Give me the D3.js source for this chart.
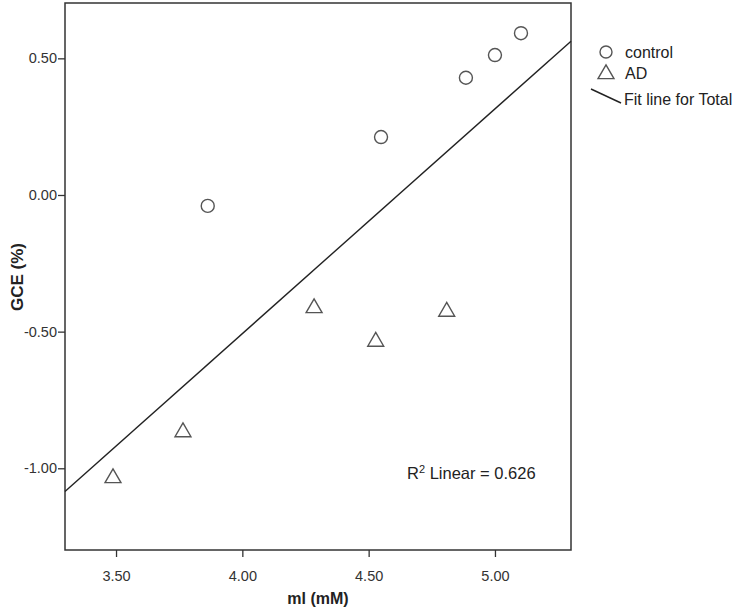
<!DOCTYPE html>
<html>
<head>
<meta charset="utf-8">
<script src="https://cdn.jsdelivr.net/npm/d3@7"></script>
<style>
  body { margin: 0; background: #fff; }
  svg { font-family: "Liberation Sans", Arial, sans-serif; }
</style>
</head>
<body>
<div id="chart"></div>
<script>
// data
const controlX = [3.863, 4.549, 4.885, 5.0, 5.103];
const controlY = [-0.04, 0.212, 0.429, 0.512, 0.592];
const adX = [3.488, 3.765, 4.284, 4.528, 4.809];
const adY = [-1.032, -0.864, -0.41, -0.533, -0.423];
const xTicks = [3.5, 4.0, 4.5, 5.0];
const yTicks = [0.5, 0.0, -0.5, -1.0];
const legendLabels = ["control", "AD", "Fit line for Total"];
const r2Label = "0.626";

const width = 739, height = 613;
const box = { left: 65, right: 571, top: 3, bottom: 550 };

const svg = d3.select("#chart")
  .append("svg")
  .attr("width", width)
  .attr("height", height);

// plain hyphen for negatives, like the original
const fmt = d3.formatLocale({ decimal: ".", thousands: ",", grouping: [3], currency: ["", ""], minus: "-" }).format(".2f");

// scales
const x = d3.scaleLinear().domain([3.298, 5.301]).range([box.left, box.right]);
const y = d3.scaleLinear().domain([-1.299, 0.7025]).range([box.bottom, box.top]);

// Y axis
const yAxis = svg.append("g")
  .attr("transform", `translate(${box.left},0)`)
  .call(d3.axisLeft(y).tickValues(yTicks).tickFormat(fmt).tickSize(7).tickSizeOuter(0));
yAxis.select(".domain").remove();
yAxis.selectAll("line").attr("stroke", "#333").attr("stroke-width", 1.3);
yAxis.selectAll("text")
  .style("font-size", "14.5px")
  .attr("fill", "#333")
  .attr("x", -8);

// X axis
const xAxis = svg.append("g")
  .attr("transform", `translate(0,${box.bottom})`)
  .call(d3.axisBottom(x).tickValues(xTicks).tickFormat(fmt).tickSize(7).tickSizeOuter(0));
xAxis.select(".domain").remove();
xAxis.selectAll("line").attr("stroke", "#333").attr("stroke-width", 1.3);
xAxis.selectAll("text")
  .style("font-size", "14.5px")
  .attr("fill", "#333")
  .attr("y", 21);

// Frame
svg.append("rect")
  .attr("x", box.left)
  .attr("y", box.top)
  .attr("width", box.right - box.left)
  .attr("height", box.bottom - box.top)
  .attr("fill", "none")
  .attr("stroke", "#333")
  .attr("stroke-width", 1.5);

// Axis titles
svg.append("text")
  .attr("x", (box.left + box.right) / 2)
  .attr("y", 604)
  .attr("text-anchor", "middle")
  .attr("font-size", 16)
  .attr("font-weight", "bold")
  .attr("fill", "#222")
  .text("ml (mM)");

svg.append("text")
  .attr("transform", "rotate(-90)")
  .attr("x", -277)
  .attr("y", 23)
  .attr("text-anchor", "middle")
  .attr("font-size", 17)
  .attr("font-weight", "bold")
  .attr("fill", "#222")
  .text("GCE (%)");

// Fit line for total (least squares)
const allX = controlX.concat(adX);
const allY = controlY.concat(adY);
const mx = d3.mean(allX), my = d3.mean(allY);
const slope = d3.sum(allX, (d, i) => (d - mx) * (allY[i] - my)) / d3.sum(allX, (d) => (d - mx) ** 2);
const fit = (v) => my + slope * (v - mx);
const [x0, x1] = x.domain();

svg.append("line")
  .attr("x1", x(x0))
  .attr("y1", y(fit(x0)))
  .attr("x2", x(x1))
  .attr("y2", y(fit(x1)))
  .attr("stroke", "#222")
  .attr("stroke-width", 1.4);

// Points
const tri = d3.symbol().type(d3.symbolTriangle).size(110);

svg.selectAll(".ctl")
  .data(controlX.map((d, i) => [d, controlY[i]]))
  .join("circle")
  .attr("class", "ctl")
  .attr("cx", (d) => x(d[0]))
  .attr("cy", (d) => y(d[1]))
  .attr("r", 6.5)
  .attr("fill", "none")
  .attr("stroke", "#555")
  .attr("stroke-width", 1.4);

svg.selectAll(".ad")
  .data(adX.map((d, i) => [d, adY[i]]))
  .join("path")
  .attr("class", "ad")
  .attr("d", tri)
  .attr("transform", (d) => `translate(${x(d[0])},${y(d[1]) + 1})`)
  .attr("fill", "none")
  .attr("stroke", "#555")
  .attr("stroke-width", 1.4);

// R2 label
const r2 = svg.append("text")
  .attr("x", 407)
  .attr("y", 479)
  .attr("font-size", 16.5)
  .attr("fill", "#222");
r2.append("tspan").text("R");
r2.append("tspan").attr("dy", -6).attr("font-size", 11).text("2");
r2.append("tspan").attr("dy", 6).text(" Linear = " + r2Label);

// Legend
const lg = svg.append("g");
lg.append("circle")
  .attr("cx", 606).attr("cy", 52).attr("r", 6)
  .attr("fill", "none").attr("stroke", "#555").attr("stroke-width", 1.4);
lg.append("path")
  .attr("d", tri)
  .attr("transform", "translate(606,74)")
  .attr("fill", "none").attr("stroke", "#555").attr("stroke-width", 1.4);
lg.append("line")
  .attr("x1", 591).attr("y1", 89).attr("x2", 621).attr("y2", 103)
  .attr("stroke", "#222").attr("stroke-width", 1.4);

lg.selectAll(".lt")
  .data(legendLabels)
  .join("text")
  .attr("class", "lt")
  .attr("x", (d, i) => (i === 2 ? 624 : 625))
  .attr("y", (d, i) => [58, 79, 105][i])
  .attr("font-size", 16)
  .attr("fill", "#222")
  .text((d) => d);
</script>
</body>
</html>
